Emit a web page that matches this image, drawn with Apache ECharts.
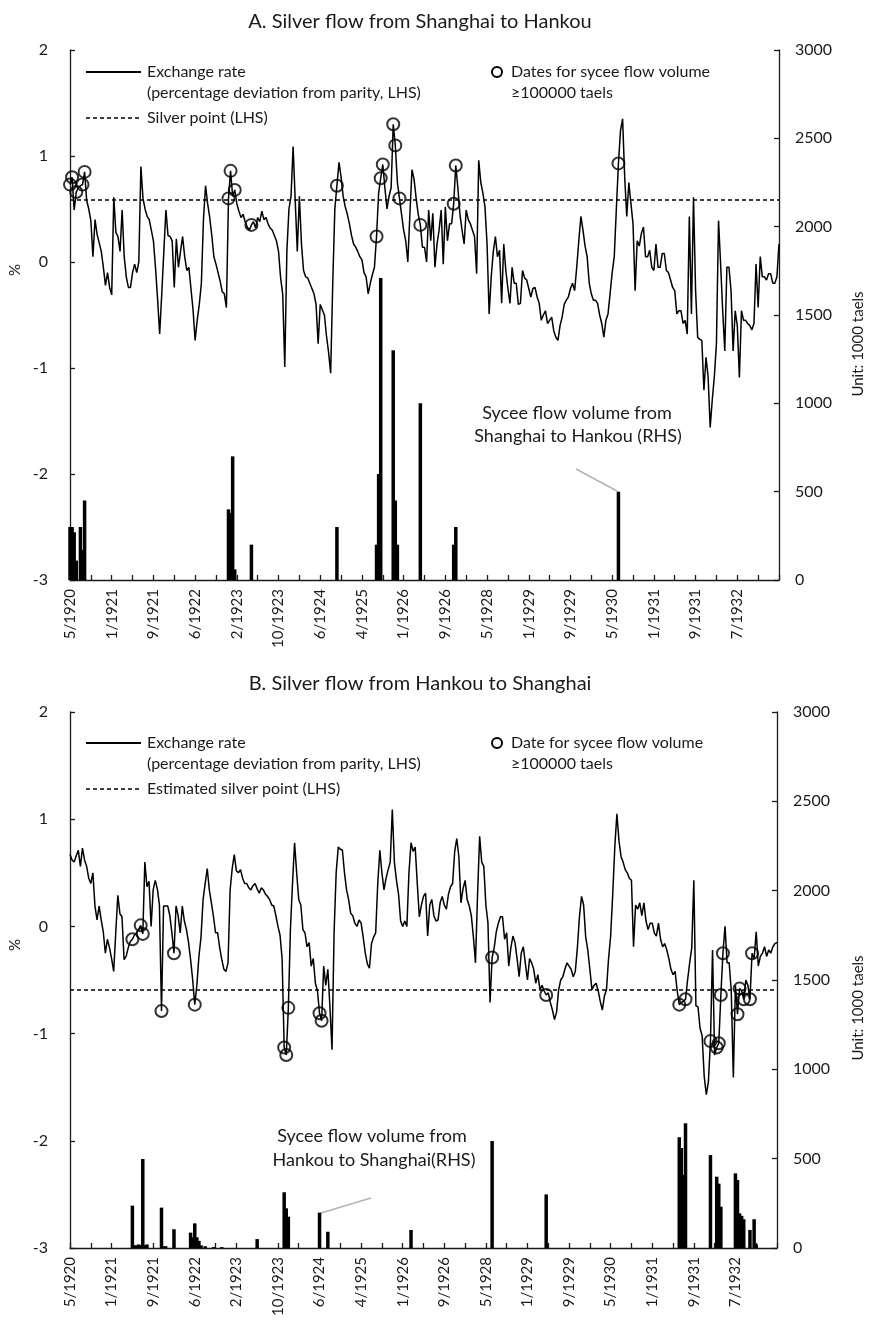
<!DOCTYPE html>
<html>
<head>
<meta charset="utf-8">
<script src="https://cdn.jsdelivr.net/npm/echarts@6/dist/echarts.min.js"></script>
<style>
  html, body { margin: 0; padding: 0; background: #fff; }
  #chart { width: 870px; height: 1324px; }
</style>
</head>
<body>
<div id="chart"></div>
<script>
  // x axis: one label every 20 observations
  const tickLabels = ['5/1920', '1/1921', '9/1921', '6/1922', '2/1923', '10/1923', '6/1924', '4/1925',
    '1/1926', '9/1926', '5/1928', '1/1929', '9/1929', '5/1930', '1/1931', '9/1931', '7/1932']

  // panel A: exchange rate, % deviation from parity
  const rateA = [
    0.73, 0.80, 0.49, 0.66, 0.70, 0.72, 0.73, 0.85, 0.58, 0.50,
    0.39, 0.05, 0.40, 0.26, 0.18, 0.10, -0.05, -0.22, -0.10, -0.24,
    -0.31, 0.61, 0.28, 0.24, 0.10, 0.49, 0.05, -0.14, -0.24, -0.24,
    -0.10, -0.02, -0.10, 0.00, 0.90, 0.60, 0.50, 0.43, 0.40, 0.30,
    0.20, -0.05, -0.35, -0.68, -0.30, 0.10, 0.49, 0.25, 0.24, 0.20,
    -0.24, 0.22, -0.05, 0.10, 0.24, 0.05, -0.08, -0.05, -0.25, -0.45,
    -0.74, -0.55, -0.40, -0.20, 0.40, 0.72, 0.55, 0.42, 0.25, 0.05,
    -0.02, -0.10, -0.18, -0.28, -0.30, -0.43, 0.60, 0.86, 0.62, 0.68,
    0.55, 0.48, 0.42, 0.45, 0.38, 0.33, 0.30, 0.35, 0.38, 0.32,
    0.42, 0.38, 0.48, 0.40, 0.42, 0.36, 0.32, 0.30, 0.25, 0.20,
    0.10, -0.15, -0.30, -0.99, 0.10, 0.50, 0.62, 1.09, 0.58, 0.10,
    0.62, 0.17, -0.08, -0.14, -0.15, -0.20, -0.25, -0.30, -0.40, -0.77,
    -0.40, -0.45, -0.50, -0.70, -0.85, -1.05, -0.20, 0.50, 0.72, 0.94,
    0.80, 0.62, 0.52, 0.45, 0.36, 0.25, 0.17, 0.14, 0.10, 0.05,
    0.02, -0.10, -0.14, -0.30, -0.20, -0.12, -0.05, 0.24, 0.65, 0.79,
    0.92, 0.70, 0.50, 0.62, 0.70, 1.30, 1.10, 0.75, 0.60, 0.45,
    0.30, 0.20, 0.00, 0.45, 0.87, 0.78, 0.60, 0.45, 0.35, 0.14,
    0.14, 0.00, 0.49, 0.20, 0.46, -0.05, 0.17, 0.30, 0.49, -0.02,
    0.52, 0.20, 0.36, 0.36, 0.55, 0.91, 0.70, 0.45, 0.30, 0.17,
    0.49, 0.40, 0.36, 0.30, 0.24, -0.11, 0.96, 0.75, 0.65, 0.52,
    0.17, -0.49, -0.14, 0.10, 0.24, 0.05, 0.11, -0.39, 0.17, -0.08,
    -0.25, -0.39, -0.05, -0.20, -0.20, -0.40, -0.39, -0.08, -0.15, -0.17,
    -0.25, -0.33, -0.25, -0.24, -0.33, -0.39, -0.55, -0.50, -0.46, -0.58,
    -0.55, -0.52, -0.65, -0.71, -0.74, -0.60, -0.52, -0.40, -0.36, -0.33,
    -0.25, -0.20, -0.27, -0.05, 0.20, 0.43, 0.30, 0.15, 0.05, -0.20,
    -0.30, -0.36, -0.36, -0.39, -0.50, -0.58, -0.71, -0.55, -0.49, -0.30,
    -0.10, 0.05, 0.50, 0.93, 1.24, 1.35, 0.80, 0.43, 0.75, 0.55,
    0.36, -0.27, 0.20, 0.15, 0.27, 0.33, 0.05, 0.05, 0.11, -0.05,
    -0.08, 0.17, -0.05, -0.05, 0.08, 0.08, -0.08, -0.10, -0.17, -0.24,
    -0.27, -0.49, -0.46, -0.46, -0.58, -0.55, -0.68, 0.43, -0.49, 0.61,
    -0.27, -0.71, -0.73, -0.74, -1.21, -0.90, -1.08, -1.56, -1.30, -1.08,
    -0.77, 0.39, -0.02, -0.46, -0.84, -0.05, -0.05, -0.27, -0.84, -0.46,
    -0.60, -1.09, -0.46, -0.55, -0.55, -0.58, -0.60, -0.64, -0.58, -0.02,
    -0.43, 0.05, -0.14, -0.14, -0.17, -0.11, -0.11, -0.20, -0.20, -0.14,
    0.17
  ]
  const silverPointA = 0.59
  // dates with sycee flow >= 100000 taels (position, rate)
  const circleIdxA = [0, 1, 3, 6, 7, 76, 77, 79, 87, 128, 147, 149, 150, 155, 156, 158, 168, 184, 185, 263]
  const circleValA = [0.73, 0.80, 0.66, 0.73, 0.85, 0.60, 0.86, 0.68, 0.35, 0.72, 0.24, 0.79, 0.92, 1.30, 1.10, 0.60, 0.35, 0.55, 0.91, 0.93]
  // sycee flow Shanghai -> Hankou, 1000 taels
  const flowIdxA = [0, 1, 2, 3, 5, 6, 7, 76, 77, 78, 79, 87, 128, 147, 148, 149, 155, 156, 157, 168, 184, 185, 263]
  const flowValA = [300, 300, 270, 110, 300, 170, 450, 400, 380, 700, 60, 200, 300, 200, 600, 1710, 1300, 450, 200, 1000, 200, 300, 500]

  // panel B
  const rateB = [
    0.67, 0.62, 0.60, 0.66, 0.71, 0.56, 0.73, 0.62, 0.56, 0.45,
    0.40, 0.50, 0.19, 0.06, 0.19, 0.06, -0.05, -0.25, -0.12, -0.20,
    -0.30, -0.42, -0.06, 0.29, 0.12, 0.09, -0.31, -0.28, -0.20, -0.14,
    -0.12, -0.08, -0.06, -0.03, 0.01, -0.07, 0.60, 0.37, 0.42, 0.00,
    0.34, 0.43, 0.35, 0.20, -0.79, 0.19, 0.19, 0.19, 0.10, -0.06,
    -0.25, 0.19, 0.10, -0.06, 0.19, 0.05, -0.03, -0.15, -0.31, -0.50,
    -0.73, -0.55, -0.28, -0.10, 0.25, 0.40, 0.54, 0.34, 0.22, 0.09,
    -0.06, -0.06, -0.20, -0.31, -0.40, -0.42, -0.34, 0.34, 0.54, 0.67,
    0.52, 0.50, 0.53, 0.45, 0.40, 0.40, 0.36, 0.34, 0.38, 0.40,
    0.35, 0.31, 0.36, 0.34, 0.30, 0.28, 0.25, 0.20, 0.19, 0.10,
    0.00, -0.08, -0.30, -1.13, -1.20, -0.76, -0.03, 0.40, 0.78, 0.50,
    0.25, 0.20, -0.03, -0.06, -0.19, -0.15, -0.37, -0.30, -0.53, -0.60,
    -0.81, -0.88, -0.37, -0.55, -0.40, -0.75, -1.15, -0.06, 0.50, 0.74,
    0.72, 0.71, 0.50, 0.34, 0.25, 0.12, 0.10, 0.03, 0.00, 0.06,
    0.03, -0.10, -0.25, -0.35, -0.39, -0.16, -0.10, -0.06, 0.40, 0.71,
    0.50, 0.34, 0.45, 0.53, 0.60, 1.09, 0.60, 0.43, 0.30, 0.05,
    0.00, 0.05, 0.00, 0.50, 0.78, 0.70, 0.74, 0.40, 0.09, 0.20,
    0.28, 0.31, -0.09, 0.20, 0.25, 0.10, 0.05, 0.06, 0.22, 0.28,
    0.20, 0.16, 0.30, 0.37, 0.40, 0.70, 0.82, 0.65, 0.22, 0.35,
    0.43, 0.25, 0.19, 0.10, -0.10, -0.34, 0.30, 0.84, 0.60, 0.56,
    0.20, 0.03, -0.71, -0.29, -0.20, -0.05, 0.03, 0.09, 0.09, -0.12,
    -0.06, -0.37, -0.20, -0.09, -0.15, -0.30, -0.47, -0.25, -0.19, -0.35,
    -0.50, -0.30, -0.34, -0.40, -0.53, -0.45, -0.59, -0.55, -0.60, -0.64,
    -0.62, -0.71, -0.78, -0.87, -0.80, -0.59, -0.50, -0.47, -0.40, -0.34,
    -0.37, -0.40, -0.47, -0.42, -0.20, 0.09, 0.28, 0.20, -0.10, -0.22,
    -0.40, -0.59, -0.55, -0.53, -0.60, -0.70, -0.78, -0.65, -0.59, -0.30,
    -0.09, 0.30, 0.74, 1.05, 0.80, 0.65, 0.60, 0.53, 0.50, 0.45,
    0.43, -0.19, 0.20, 0.16, 0.22, 0.10, 0.22, 0.05, -0.03, 0.03,
    0.03, -0.06, -0.09, 0.03, -0.12, -0.19, -0.16, -0.22, -0.30, -0.40,
    -0.45, -0.42, -0.60, -0.73, -0.71, -0.70, -0.68, -0.50, -0.34, -0.20,
    0.43, -0.74, -0.75, -0.95, -1.02, -1.40, -1.57, -1.45, -1.07, -0.22,
    -1.20, -1.13, -1.09, -0.64, -0.25, 0.00, -0.34, -0.34, -0.60, -1.41,
    -0.55, -0.82, -0.58, -0.60, -0.68, -0.50, -0.55, -0.68, -0.25, -0.30,
    -0.05, -0.37, -0.28, -0.25, -0.19, -0.28, -0.22, -0.25, -0.19, -0.16,
    -0.15
  ]
  const silverPointB = -0.59
  const circleIdxB = [30, 34, 35, 44, 50, 60, 103, 104, 105, 120, 121, 203, 229, 293, 296, 308, 311, 312, 313, 314, 321, 322, 324, 327, 328]
  const circleValB = [-0.12, 0.01, -0.07, -0.79, -0.25, -0.73, -1.13, -1.20, -0.76, -0.81, -0.88, -0.29, -0.64, -0.73, -0.68, -1.07, -1.13, -1.09, -0.64, -0.25, -0.82, -0.58, -0.68, -0.68, -0.25]
  // sycee flow Hankou -> Shanghai, 1000 taels
  const flowIdxB = [30, 31, 32, 33, 34, 35, 36, 37, 44, 45, 46, 50, 58, 59, 60, 61, 62, 63, 65, 69, 73, 90, 103, 104, 105, 120, 124, 164, 203, 229, 293, 294, 295, 296, 308, 311, 312, 313, 320, 321, 322, 323, 324, 327, 329, 330]
  const flowValB = [237, 15, 15, 20, 15, 498, 15, 20, 226, 10, 10, 105, 86, 60, 138, 60, 40, 15, 10, 5, 5, 50, 312, 222, 175, 198, 91, 101, 599, 300, 620, 560, 409, 698, 520, 399, 360, 231, 418, 381, 194, 180, 161, 101, 161, 20]

  const FONT = 'Lato, "Noto Sans", sans-serif'
  const INK = '#1a1a1a'
  const cats = rateA.map((v, i) => (i % 20 === 0 && tickLabels[i / 20]) ? tickLabels[i / 20] : '')

  const pairs = (idx, vals) => idx.map((x, k) => [x, vals[k]])

  function xAxisFor(gridIndex) {
    return {
      type: 'category', gridIndex, data: cats, boundaryGap: false,
      axisLine: { onZero: false, lineStyle: { color: INK, width: 1.3 } },
      axisTick: { inside: true, length: 5, interval: 9, lineStyle: { color: INK, width: 1.3 } },
      axisLabel: { interval: 19, rotate: 90, margin: 9, color: INK, fontSize: 15, fontFamily: FONT },
      splitLine: { show: false },
    }
  }
  function yAxisFor(gridIndex, right) {
    return {
      type: 'value', gridIndex, position: right ? 'right' : 'left',
      min: right ? 0 : -3, max: right ? 3000 : 2, interval: right ? 500 : 1,
      axisLine: { show: true, lineStyle: { color: INK, width: 1.3 } },
      axisTick: { show: true, inside: true, length: 5, lineStyle: { color: INK, width: 1.3 } },
      axisLabel: {
        color: INK, fontSize: 16, fontFamily: FONT, margin: right ? 16 : 22,
        formatter: (v) => String(v),
      },
      splitLine: { show: false },
    }
  }
  function panelSeries(k, rate, silver, cIdx, cVal, fIdx, fVal) {
    return [
      {
        type: 'bar', xAxisIndex: k, yAxisIndex: k * 2 + 1, data: pairs(fIdx, fVal),
        barWidth: 3.5, itemStyle: { color: '#000' }, z: 2,
      },
      {
        type: 'line', xAxisIndex: k, yAxisIndex: k * 2, data: rate,
        showSymbol: false, lineStyle: { color: '#000', width: 1.5 }, z: 3,
        markLine: {
          silent: true, symbol: 'none', label: { show: false },
          lineStyle: { color: '#000', type: [4, 3], width: 1.6 },
          data: [{ yAxis: silver }],
        },
      },
      {
        type: 'scatter', xAxisIndex: k, yAxisIndex: k * 2, data: pairs(cIdx, cVal),
        symbol: 'circle', symbolSize: 12, z: 4,
        itemStyle: { color: 'rgba(0,0,0,0)', borderColor: '#000', borderWidth: 2 },
      },
    ]
  }

  function txt(x, y, text, size, align, rot) {
    return {
      type: 'text', x, y, rotation: rot || 0,
      style: { text, x: 0, y: 0, fill: INK, font: size + 'px ' + FONT, textAlign: align || 'left', textVerticalAlign: 'middle' },
    }
  }
  function legend(y0, silverLabel, circleLabel) {
    return [
      { type: 'line', shape: { x1: 86, y1: y0, x2: 141, y2: y0 }, style: { stroke: '#000', lineWidth: 2 } },
      txt(147, y0, 'Exchange rate', 16),
      txt(147, y0 + 21, '(percentage deviation from parity, LHS)', 16),
      { type: 'line', shape: { x1: 86, y1: y0 + 46, x2: 141, y2: y0 + 46 }, style: { stroke: '#000', lineWidth: 1.6, lineDash: [4, 3] } },
      txt(147, y0 + 46, silverLabel, 16),
      { type: 'circle', shape: { cx: 497, cy: y0, r: 5 }, style: { fill: 'none', stroke: '#000', lineWidth: 2 } },
      txt(511, y0, circleLabel, 16),
      txt(511, y0 + 21, '\u2265100000 taels', 16),
    ]
  }

  const chart = echarts.init(document.getElementById('chart'))
  chart.setOption({
    animation: false,
    backgroundColor: '#fff',
    grid: [
      { left: 70, right: 91, top: 50, height: 530 },
      { left: 70, right: 93, top: 712, height: 536 },
    ],
    xAxis: [xAxisFor(0), xAxisFor(1)],
    yAxis: [yAxisFor(0, false), yAxisFor(0, true), yAxisFor(1, false), yAxisFor(1, true)],
    series: [].concat(
      panelSeries(0, rateA, silverPointA, circleIdxA, circleValA, flowIdxA, flowValA),
      panelSeries(1, rateB, silverPointB, circleIdxB, circleValB, flowIdxB, flowValB)
    ),
    graphic: [].concat(
      [
        txt(420, 22, 'A. Silver flow from Shanghai to Hankou', 20, 'center'),
        txt(420, 684, 'B. Silver flow from Hankou to Shanghai', 20, 'center'),
        txt(15, 270, '%', 15, 'center', Math.PI / 2),
        txt(15, 945, '%', 15, 'center', Math.PI / 2),
        txt(858, 344, 'Unit: 1000 taels', 15, 'center', Math.PI / 2),
        txt(858, 1008, 'Unit: 1000 taels', 15, 'center', Math.PI / 2),
        // annotations for the bars
        txt(577, 413, 'Sycee flow volume from', 18, 'center'),
        txt(578, 436, 'Shanghai to Hankou (RHS)', 18, 'center'),
        { type: 'line', shape: { x1: 576, y1: 469, x2: 617, y2: 491 }, style: { stroke: '#b3b3b3', lineWidth: 1.5 } },
        txt(372, 1136, 'Sycee flow volume from', 18, 'center'),
        txt(374, 1160, 'Hankou to Shanghai(RHS)', 18, 'center'),
        { type: 'line', shape: { x1: 371, y1: 1198, x2: 321, y2: 1213 }, style: { stroke: '#b3b3b3', lineWidth: 1.5 } },
      ],
      legend(72, 'Silver point (LHS)', 'Dates for sycee flow volume'),
      legend(743, 'Estimated silver point (LHS)', 'Date for sycee flow volume')
    ),
  })
</script>
</body>
</html>
